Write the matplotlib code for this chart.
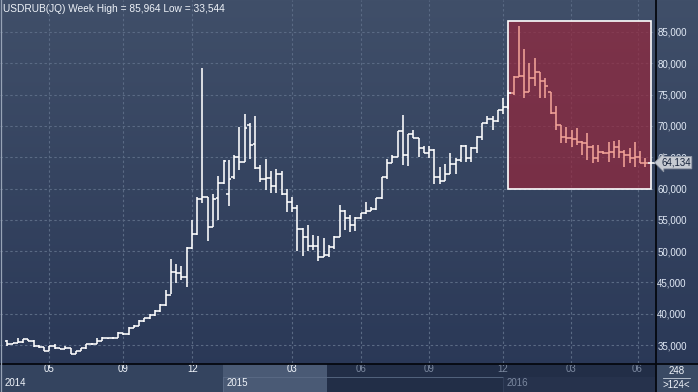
import numpy as np
import matplotlib
matplotlib.use("Agg")
import matplotlib.pyplot as plt
from matplotlib.patches import Rectangle
from matplotlib.lines import Line2D

# ---------------- data (weekly OHLC, RUB per USD) ----------------
opens = [35.72, 35.19, 35.35, 35.46, 36.00, 35.72, 34.90, 34.65, 34.05, 34.90,
         34.50, 34.37, 34.49, 33.60, 34.10, 34.49, 35.12, 35.19, 35.72, 36.10,
         36.10, 36.15, 36.88, 36.77, 37.80, 38.05, 38.80, 39.30, 39.80, 40.40,
         41.40, 43.00, 46.70, 46.50, 45.80, 50.50, 52.70, 58.30, 58.70, 53.90,
         58.45, 60.85, 59.10, 61.80, 65.00, 64.30, 70.10, 67.10, 63.30, 61.60,
         61.70, 60.40, 62.30, 59.10, 57.90, 56.85, 53.60, 52.20, 50.90, 50.85,
         49.10, 49.40, 50.60, 52.30, 56.40, 55.25, 54.20, 55.25, 56.05, 56.40,
         56.70, 58.54, 61.80, 64.13, 65.10, 69.24, 65.36, 68.66, 68.00, 66.40,
         65.63, 66.15, 61.90, 61.25, 62.40, 63.90, 64.60, 66.80, 64.90, 66.50,
         68.20, 70.40, 71.06, 70.84, 72.54, 72.97, 75.20, 77.86, 77.97, 75.47,
         77.60, 78.56, 77.17, 75.40, 72.00, 70.15, 68.30, 68.00, 67.90, 67.50,
         67.30, 66.70, 64.80, 65.90, 65.60, 65.90, 66.70, 65.90, 65.36, 64.83,
         65.10, 64.00]
highs = [35.75, 35.40, 36.15, 36.05, 36.05, 35.75, 34.95, 34.70, 34.90, 35.25,
         34.60, 34.80, 34.55, 34.10, 34.50, 35.12, 35.30, 36.10, 36.26, 36.20,
         36.30, 37.14, 36.95, 37.94, 38.15, 38.96, 39.40, 39.90, 40.60, 41.60,
         43.80, 48.75, 47.95, 47.60, 50.60, 55.00, 58.60, 79.20, 58.70, 59.10,
         62.00, 64.56, 64.56, 65.30, 69.90, 71.90, 70.50, 71.60, 63.75, 64.70,
         62.84, 63.10, 62.84, 59.90, 58.70, 57.30, 53.64, 54.16, 52.60, 52.40,
         52.05, 51.00, 52.50, 57.40, 56.50, 55.70, 55.40, 56.05, 57.80, 57.10,
         58.54, 61.80, 64.67, 65.36, 69.24, 71.75, 68.66, 69.35, 68.02, 66.79,
         66.80, 66.30, 63.50, 63.90, 65.60, 64.80, 67.00, 67.00, 66.70, 68.40,
         70.50, 71.60, 71.60, 72.54, 74.41, 75.70, 77.90, 85.964, 82.30, 80.00,
         80.90, 78.60, 77.60, 75.40, 73.20, 70.15, 69.88, 69.35, 69.60, 67.60,
         68.80, 66.90, 66.90, 66.00, 67.50, 67.60, 67.80, 66.15, 66.40, 67.50,
         66.00, 64.90]
lows = [34.92, 35.15, 35.30, 35.40, 35.60, 34.65, 34.60, 34.05, 34.00, 34.40,
        34.35, 34.30, 33.57, 33.544, 34.05, 34.40, 35.00, 35.10, 35.70, 36.00,
        36.00, 36.10, 36.60, 36.61, 37.75, 38.00, 38.70, 39.20, 39.70, 40.30,
        41.20, 43.10, 44.96, 45.40, 44.35, 50.30, 52.60, 57.65, 51.70, 53.90,
        54.90, 60.73, 57.20, 61.50, 63.00, 64.20, 64.70, 63.20, 61.10, 59.70,
        59.25, 59.35, 58.97, 56.20, 56.30, 50.06, 49.30, 50.06, 50.20, 48.50,
        49.10, 49.10, 50.30, 52.20, 53.30, 53.00, 53.20, 55.20, 56.00, 56.40,
        56.60, 58.40, 61.57, 64.10, 64.99, 63.76, 63.60, 68.00, 64.99, 65.63,
        64.80, 60.70, 60.70, 61.20, 62.30, 62.30, 64.30, 64.30, 64.30, 65.70,
        67.76, 70.30, 69.35, 70.68, 71.90, 72.70, 74.90, 77.80, 74.50, 75.40,
        76.30, 74.50, 74.50, 71.85, 69.35, 67.22, 67.22, 66.68, 66.95, 65.40,
        64.60, 64.00, 64.30, 65.50, 64.30, 64.90, 64.80, 63.50, 64.00, 63.50,
        64.00, 63.50]
closes = [35.19, 35.35, 35.46, 36.00, 35.72, 34.90, 34.65, 34.05, 34.90, 34.50,
          34.37, 34.49, 33.60, 34.10, 34.49, 35.12, 35.19, 35.72, 36.10, 36.10,
          36.15, 36.88, 36.77, 37.80, 38.05, 38.80, 39.30, 39.80, 40.40, 41.40,
          43.00, 46.70, 46.50, 45.80, 50.50, 52.70, 58.30, 58.70, 53.90, 58.40,
          60.85, 64.45, 61.50, 65.00, 64.20, 69.60, 67.00, 63.30, 61.60, 61.70,
          60.40, 62.30, 59.13, 57.90, 56.85, 53.60, 52.20, 50.90, 50.85, 49.10,
          49.40, 50.60, 52.30, 56.40, 55.25, 54.20, 55.25, 56.05, 56.40, 56.70,
          58.54, 61.80, 64.13, 65.10, 69.24, 65.36, 68.66, 68.00, 66.40, 65.63,
          66.15, 61.90, 61.25, 62.40, 63.90, 64.60, 66.80, 64.90, 66.50, 68.20,
          70.40, 71.06, 70.84, 72.54, 72.97, 75.20, 77.86, 77.97, 75.47, 77.60,
          78.56, 77.17, 76.38, 72.00, 70.15, 68.30, 68.00, 67.90, 67.50, 67.30,
          66.70, 64.80, 65.90, 65.60, 65.90, 66.70, 65.90, 65.36, 64.83, 65.10,
          64.00, 64.134]

y_levels = [35, 40, 45, 50, 55, 60, 65, 70, 75, 80, 85]
month_labels = ["05", "09", "12", "03", "06", "09", "12", "03", "06"]
month_pos = [8.0, 22.0, 35.1, 54.0, 67.0, 80.0, 93.9, 106.9, 119.5]
year_labels = ["2014", "2015", "2016"]
year_pos = [-0.6, 41.5, 94.75]
highlight_box = (95.0, 122.05, 59.93, 86.76)   # x0, x1, y0, y1
title = "USDRUB(JQ) Week High = 85,964 Low = 33,544"
last_price = 64.134

# ---------------- layout ----------------
W, H = 698, 392
fig = plt.figure(figsize=(W / 100, H / 100), dpi=100)
plt.rcParams["font.family"] = ["Liberation Sans", "DejaVu Sans"]

def fx(px):
    return px / W

def fy(py):
    return 1 - py / H

# gradient background
bg = fig.add_axes([0, 0, 1, 1])
bg.set_axis_off()
g = np.linspace(0, 1, 256)[:, None, None]
top = np.array([64, 79, 105]) / 255
bot = np.array([41, 55, 86]) / 255
img = top * (1 - g) + bot * g
bg.imshow(img, aspect="auto", extent=[0, 1, 0, 1], origin="upper")
bg.set_xlim(0, 1); bg.set_ylim(0, 1)

XMIN, XMAX = -1.384, 122.81
YMIN, YMAX = 32.139, 90.110

ax = fig.add_axes([0, 29 / H, 655 / W, 363 / H])
ax.set_facecolor("none")
ax.set_xlim(XMIN, XMAX)
ax.set_ylim(YMIN, YMAX)
for s in ax.spines.values():
    s.set_visible(False)
ax.set_xticks(month_pos)
ax.set_yticks(y_levels)
ax.yaxis.tick_right()
ax.set_yticklabels([f"{v:.3f}".replace(".", ",") for v in y_levels])
ax.tick_params(axis="x", length=0, labelbottom=False)
ax.tick_params(axis="y", length=0, pad=1.6, labelsize=7, labelcolor="#e2eaf6")
ax.grid(True, color="#5a6a84", linestyle=(0, (2.2, 2.2)), linewidth=0.8, zorder=0.5)
ax.set_axisbelow(True)

# highlight box
x0, x1, y0, y1 = highlight_box
ax.add_patch(Rectangle((x0, y0), x1 - x0, y1 - y0, facecolor=(0.60, 0.15, 0.23),
                       alpha=0.68, edgecolor="none", zorder=1))

n = len(closes)
xs = np.arange(n)
cols = ["#f2a398" if x > x0 else "#ffffff" for x in xs]
lw = 1.15
ax.vlines(xs, lows, highs, colors=cols, linewidth=lw, zorder=3, capstyle="butt")
ax.hlines(opens, xs - 0.5, xs, colors=cols, linewidth=lw, zorder=3)
ax.hlines(closes, xs, xs + 0.5, colors=cols, linewidth=lw, zorder=3)

ax.add_patch(Rectangle((x0, y0), x1 - x0, y1 - y0, facecolor="none",
                       edgecolor="#ffffff", linewidth=1.2, zorder=4))

# last price line into the right panel
ax.hlines([last_price], n - 0.5, XMAX + 0.4, colors="#ffffff", linewidth=lw,
          zorder=5, clip_on=False)

# title
fig.text(fx(3), fy(8.5), title, fontsize=7.3, color="#eef2f8", va="center", ha="left")

# price label
py = ax.transData.transform((0, last_price))[1]
fig.text(fx(661), py / H, f"{last_price:.3f}".replace(".", ","), fontsize=7,
         color="#16223a", va="center", ha="left", zorder=10,
         bbox=dict(boxstyle="larrow,pad=0.12", facecolor="#c6cad2",
                   edgecolor="#8e96a4", linewidth=0.6))

# ---------------- bottom time axis ----------------
bax = fig.add_axes([0, 0, 655 / W, 28 / H])
bax.set_xlim(XMIN, XMAX)
bax.set_ylim(0, 28)
bax.set_axis_off()
bax.add_patch(Rectangle((XMIN, 0), XMAX - XMIN, 28, facecolor="#34445f", edgecolor="none"))
bax.add_patch(Rectangle((40.9, 0), 60.62 - 40.9, 28, facecolor="#4a5a75", edgecolor="none"))
bax.add_patch(Rectangle((60.62, 0), XMAX - 60.62, 28, facecolor="#222e47", edgecolor="none"))
bax.add_patch(Rectangle((94.0, 0), XMAX - 94.0, 15.5, facecolor="#26324c", edgecolor="none"))
bax.plot([40.9, 94.0], [15.5, 15.5], color="#5b6b86", linewidth=0.6)
bax.plot([40.9, 40.9], [0, 15.5], color="#5b6b86", linewidth=0.6)
bax.plot([94.0, 94.0], [0, 15.5], color="#34415c", linewidth=0.6)

for lab, p in zip(month_labels, month_pos):
    c = "#f0f4fa" if p < 60.62 else "#7c89a0"
    bax.text(p, 22.5, lab, fontsize=7, color=c, ha="center", va="center")
for lab, p in zip(year_labels, year_pos):
    c = "#f0f4fa" if p < 60.62 else "#7c89a0"
    bax.text(p, 8.5, lab, fontsize=7, color=c, ha="left", va="center")

# bottom-right box
fig.patches.append(Rectangle((fx(656), 0), 1 - fx(656), 28 / H, transform=fig.transFigure,
                             facecolor="#3a4a64", edgecolor="none", zorder=2))
fig.text(fx(676.5), fy(371), "248", fontsize=7, color="#f0f4fa", ha="center", va="center", zorder=6)
fig.lines.append(Line2D([fx(663), fx(690)], [fy(377.5), fy(377.5)], transform=fig.transFigure,
                        color="#c8d0dc", linewidth=0.6, zorder=6))
fig.text(fx(676.5), fy(384.5), ">124<", fontsize=7, color="#f0f4fa", ha="center", va="center", zorder=6)

# separators
fig.lines.append(Line2D([0, 1], [fy(363.5), fy(363.5)], transform=fig.transFigure,
                        color="#05080f", linewidth=1.3, zorder=7))
fig.lines.append(Line2D([fx(655.5), fx(655.5)], [0, 1], transform=fig.transFigure,
                        color="#05080f", linewidth=1.3, zorder=7))
fig.lines.append(Line2D([fx(0.5), fx(0.5)], [0, 1], transform=fig.transFigure,
                        color="#97a3b6", linewidth=0.9, zorder=7))

fig.savefig("out.png", dpi=100)
